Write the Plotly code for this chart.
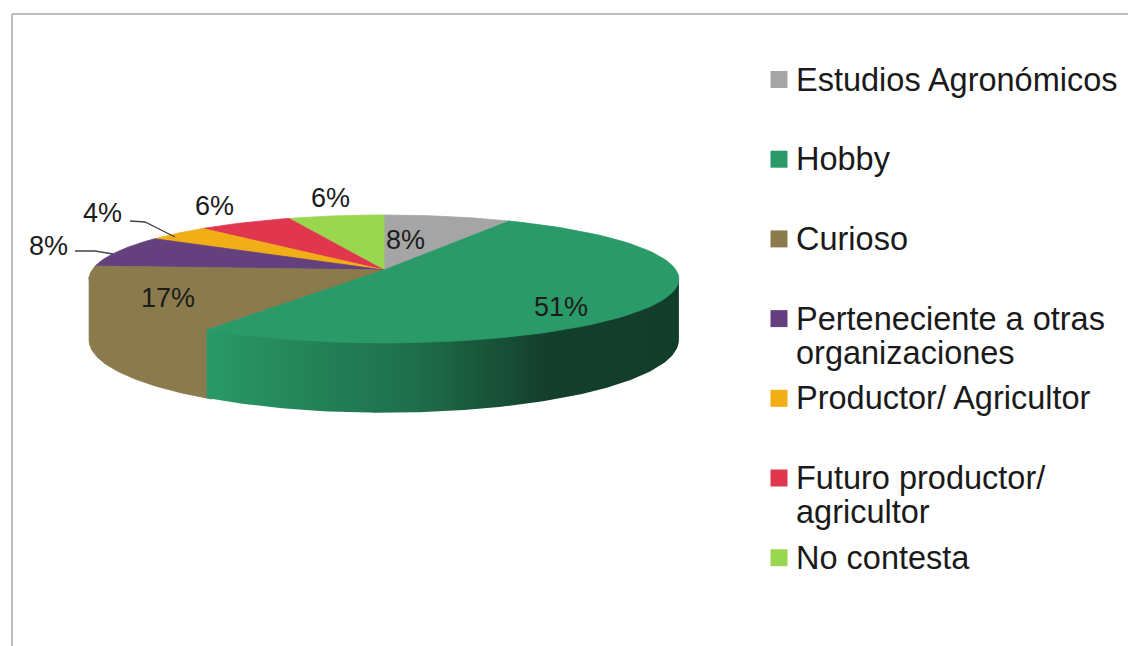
import numpy as np
import plotly.graph_objects as go

categories = ["Estudios Agronómicos", "Hobby", "Curioso", "Perteneciente a otras organizaciones",
              "Productor/ Agricultor", "Futuro productor/ agricultor", "No contesta"]
legend_lines = [["Estudios Agronómicos"], ["Hobby"], ["Curioso"], ["Perteneciente a otras", "organizaciones"],
                ["Productor/ Agricultor"], ["Futuro productor/", "agricultor"], ["No contesta"]]
values = [8, 51, 17, 8, 4, 6, 6]
colors = ["#a5a5a5", "#2a9a68", "#8a7a4c", "#65407f", "#f2ae17", "#e0374f", "#9bd64f"]

W, H = 1128, 646
CX, CY = 384, 270       # apex of the pie on screen
RX, RY = 292, 62.7      # radii in the picture plane
K = 0.14                # perspective strength
DEPTH = 60              # wall height

label_pos = [(405, 240), (561, 307), (168, 298), (48, 246), (102, 213), (214, 206), (330, 198)]
leaders = {3: ([75, 95, 113], [251, 251, 254]), 4: ([130, 145, 175], [221, 222, 237])}


def project(theta, z=0.0):
    """theta: clockwise from the back of the pie, radians; z: depth below the top face."""
    X, Y = np.sin(theta), np.cos(theta)
    w = 1 + K * Y
    return CX + RX * X / w, CY + (-RY * Y + z) / w


edges = np.cumsum([0] + values) / sum(values) * 2 * np.pi
silhouette = np.arccos(-K)   # angle at which the rim is widest on screen


def top_face(i):
    t = np.linspace(edges[i], edges[i + 1], 80)
    x, y = project(t)
    return np.r_[CX, x, CX], np.r_[CY, y, CY]


def wall(t0, t1):
    t = np.linspace(t0, t1, 120)
    x0, y0 = project(t, -2)          # tucked under the top face
    x1, y1 = project(t[::-1], DEPTH)
    return np.r_[x0, x1, x0[0]], np.r_[y0, y1, y0[0]]


def face_trace(x, y, color):
    return go.Scatter(x=x, y=y, mode="lines", fill="toself", fillcolor=color,
                      line=dict(width=0.8, color=color), showlegend=False, hoverinfo="skip")


fig = go.Figure()

# Back slices first
for i in [0, 6, 5, 4, 3]:
    fig.add_trace(face_trace(*top_face(i), colors[i]))

# Side walls with the shading of the original
x, y = wall(2 * np.pi - silhouette, edges[2] - 0.02)
fig.add_trace(face_trace(x, y, colors[2]))
x, y = wall(silhouette, edges[2])
fig.add_trace(go.Scatter(x=x, y=y, mode="lines", fill="toself", line=dict(width=0),
                         fillgradient=dict(type="horizontal", start=205, stop=679,
                                           colorscale=[[0, "#2a9a68"], [0.2, "#24855a"],
                                                       [0.45, "#1e6d4b"], [0.72, "#143f2c"],
                                                       [1, "#123d2b"]]),
                         showlegend=False, hoverinfo="skip"))

# Front slices' top faces
for i in [2, 1]:
    fig.add_trace(face_trace(*top_face(i), colors[i]))

# Leader lines
for lx, ly in leaders.values():
    fig.add_trace(go.Scatter(x=lx, y=ly, mode="lines", line=dict(color="#444444", width=1.3),
                             showlegend=False, hoverinfo="skip"))

# Legend: evenly spaced slots, text hanging from the first line
for i, name in enumerate(categories):
    fig.add_trace(go.Scatter(x=[779], y=[name], yaxis="y2", mode="markers",
                             marker=dict(symbol="square", size=17, color=colors[i]),
                             name=name, showlegend=False, hoverinfo="name"))
    for n, line in enumerate(legend_lines[i]):
        fig.add_annotation(x=793.5, y=name, yref="y2", xref="x", text=line, showarrow=False,
                           xanchor="left", yanchor="middle", align="left", yshift=-34 * n,
                           font=dict(family="Liberation Sans", size=32.5, color="#1a1a1a"))

# Percentage labels
for i, v in enumerate(values):
    fig.add_annotation(x=label_pos[i][0], y=label_pos[i][1], text=f"{v}%", showarrow=False,
                       font=dict(family="Liberation Sans", size=27, color="#1c1c1c"))

# Image frame
frame = dict(type="line", xref="x", yref="y", line=dict(color="#bdbdbd", width=2))
fig.add_shape(x0=12, x1=12, y0=14, y1=H, **frame)
fig.add_shape(x0=12, x1=W, y0=14, y1=14, **frame)

step = 79.7
fig.update_layout(
    width=W, height=H, margin=dict(l=0, r=0, t=0, b=0),
    paper_bgcolor="white", plot_bgcolor="white", showlegend=False,
    xaxis=dict(range=[0, W], visible=False, fixedrange=True),
    yaxis=dict(range=[H, 0], visible=False, fixedrange=True),
    yaxis2=dict(overlaying="y", type="category", categoryorder="array", categoryarray=categories,
                range=[(H - 79.5) / step, -79.5 / step], visible=False, fixedrange=True),
)
fig.write_html("out.html", config={"displayModeBar": False},
               post_script="document.body.style.margin='0';")
